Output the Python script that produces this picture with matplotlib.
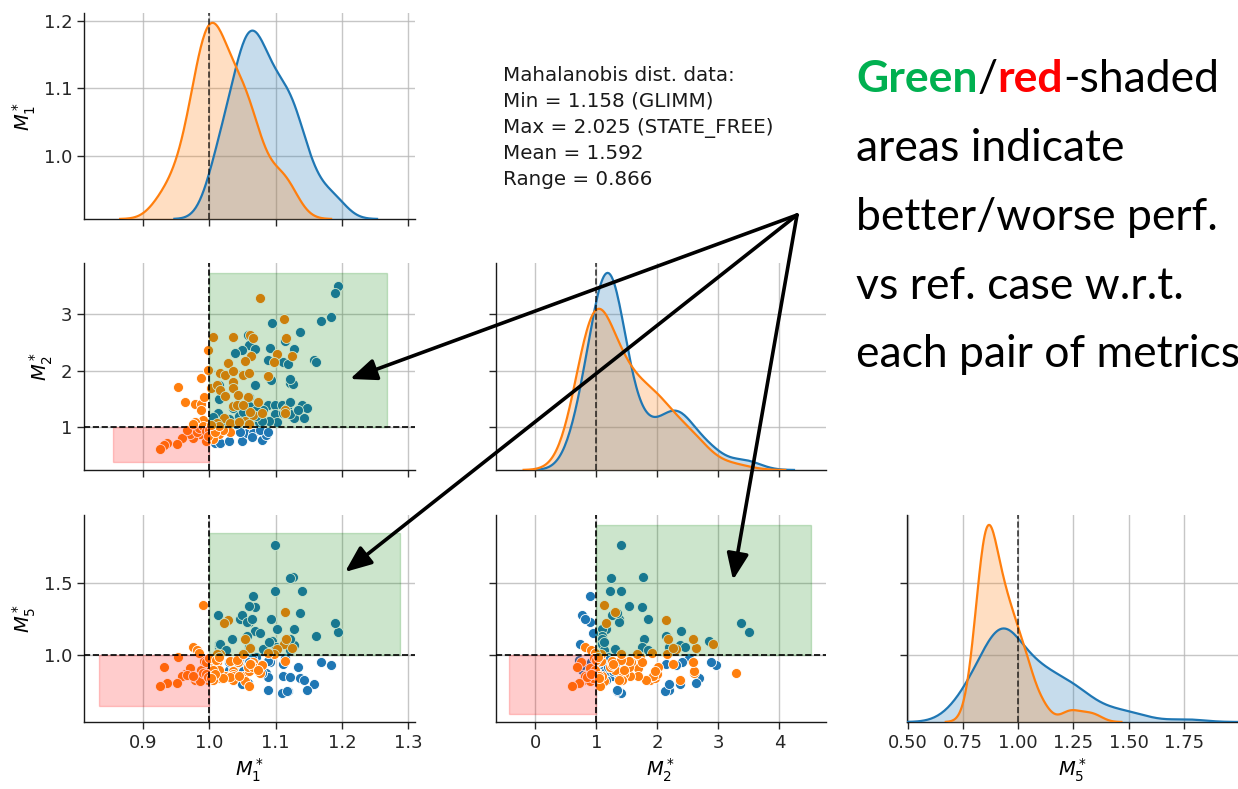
import numpy as np
import matplotlib
matplotlib.use("Agg")
import matplotlib.pyplot as plt
from matplotlib.patches import Rectangle, FancyArrowPatch

# ---------------- data ----------------
# series 1 (blue)
m1_blue = [1.194, 1.189, 1.183, 1.168, 1.137, 1.094, 1.114, 1.127, 1.092, 1.058,
           1.059, 1.069, 1.049, 1.039, 1.089, 1.101, 1.111, 1.119, 1.157, 1.160,
           1.093, 1.122, 1.126, 1.069, 1.014, 1.014, 1.059, 1.046, 1.059, 1.013,
           1.089, 1.099, 1.109, 1.117, 1.137, 1.139, 1.147, 1.099, 1.111, 1.127,
           1.142, 1.102, 1.056, 1.074, 1.034, 1.014, 1.006, 1.009, 1.016, 1.029,
           1.049, 1.056, 1.066, 1.064, 1.079, 1.086, 1.076, 1.046, 1.089, 1.121,
           1.025, 1.081, 1.122, 1.133, 1.122, 1.071, 1.036, 1.090, 1.030, 1.040,
           1.050, 1.055, 1.060, 1.065, 1.070, 1.075, 1.080, 1.045, 1.035, 1.060,
           1.070, 1.050]
m2_blue = [3.51, 3.37, 2.96, 2.88, 2.68, 2.84, 2.52, 2.38, 2.41, 2.63,
           2.46, 2.39, 2.37, 2.31, 2.19, 2.19, 2.15, 2.13, 2.19, 2.15,
           1.84, 1.78, 1.77, 1.75, 1.75, 1.51, 1.54, 1.37, 1.37, 1.25,
           1.40, 1.40, 1.40, 1.34, 1.34, 1.40, 1.34, 1.23, 1.25, 1.16,
           1.16, 1.10, 1.10, 1.10, 1.10, 1.10, 1.19, 0.72, 0.73, 0.76,
           0.76, 0.905, 0.905, 0.82, 0.78, 0.86, 0.95, 0.92, 0.92, 1.24,
           1.12, 1.30, 1.85, 1.30, 1.45, 1.20, 1.05, 1.12, 1.15, 1.05,
           1.18, 1.25, 1.08, 1.15, 1.30, 1.10, 1.12, 1.20, 1.35, 1.05,
           1.20, 1.28]
m5_blue = [1.16, 1.225, 0.93, 0.95, 0.84, 1.10, 0.98, 1.07, 0.955, 0.81,
           1.06, 1.17, 0.80, 0.93, 0.76, 1.06, 0.94, 0.75, 0.80, 1.13,
           1.25, 1.11, 1.54, 1.33, 1.06, 0.87, 1.34, 1.25, 1.23, 1.28,
           0.96, 1.76, 0.74, 0.75, 1.29, 1.44, 0.76, 1.44, 0.86, 1.18,
           0.83, 1.18, 1.13, 0.90, 1.11, 1.08, 0.92, 0.97, 1.08, 0.90,
           1.28, 1.23, 1.41, 1.25, 0.93, 0.88, 1.15, 0.95, 0.85, 1.535,
           1.035, 1.04, 1.035, 0.92, 0.85, 0.99, 0.92, 1.09, 0.95, 0.97,
           0.93, 0.96, 0.91, 0.98, 0.94, 0.90, 0.88, 0.97, 0.87, 0.95,
           0.92, 0.89]

# series 2 (orange)
m1_orange = [1.076, 1.113, 1.005, 1.035, 1.062, 1.066, 1.116, 0.998, 1.063, 1.028,
             1.054, 1.102, 1.097, 1.124, 0.998, 0.987, 0.953, 1.016, 1.023, 1.035,
             1.050, 1.059, 1.036, 1.089, 1.002, 1.012, 1.016, 1.036, 1.024, 1.043,
             1.058, 0.963, 0.978, 0.988, 0.988, 0.992, 0.991, 0.978, 1.035, 1.022,
             1.031, 1.054, 1.066, 1.079, 1.114, 1.114, 1.011, 1.004, 1.014, 1.031,
             0.996, 1.006, 0.995, 0.986, 0.976, 0.971, 0.958, 0.951, 0.936, 0.931,
             0.925, 0.981, 1.041, 1.061, 1.074, 0.985, 0.966, 1.044, 1.059, 1.051,
             0.990, 1.005, 0.975, 1.020, 0.995, 1.000, 1.010, 0.998, 1.008, 1.015,
             1.003]
m2_orange = [3.295, 2.92, 2.60, 2.60, 2.63, 2.59, 2.59, 2.37, 2.26, 2.14,
             2.18, 2.30, 2.16, 2.26, 2.01, 1.88, 1.72, 1.96, 1.93, 1.99,
             1.93, 1.97, 1.81, 1.91, 1.69, 1.75, 1.66, 1.69, 1.56, 1.57,
             1.54, 1.45, 1.42, 1.41, 1.31, 1.54, 1.13, 1.10, 1.38, 1.16,
             1.07, 1.12, 1.22, 1.25, 1.31, 1.25, 1.07, 0.95, 0.89, 0.92,
             0.88, 0.79, 0.75, 0.89, 0.81, 0.89, 0.81, 0.71, 0.72, 0.68,
             0.61, 0.92, 1.40, 1.28, 1.45, 0.98, 0.95, 1.09, 1.06, 1.40,
             1.02, 0.98, 1.05, 0.95, 0.93, 0.96, 1.00, 0.85, 0.92, 1.03,
             1.04]
m5_orange = [0.88, 1.08, 0.88, 0.89, 1.05, 0.95, 1.115, 0.83, 0.94, 1.246,
             1.115, 1.04, 1.01, 1.05, 0.92, 0.83, 0.985, 0.84, 0.86, 0.87,
             0.86, 0.89, 0.83, 1.015, 0.91, 0.95, 1.01, 0.86, 0.86, 0.95,
             0.92, 0.87, 0.83, 0.89, 0.90, 0.96, 1.35, 0.85, 0.83, 1.22,
             0.96, 0.82, 0.92, 0.93, 1.30, 0.96, 1.01, 0.87, 0.90, 0.85,
             0.86, 0.83, 0.95, 0.82, 1.06, 0.91, 0.86, 0.81, 0.81, 0.92,
             0.79, 1.035, 0.965, 0.94, 0.90, 1.012, 0.862, 0.86, 0.79, 1.01,
             0.88, 0.90, 0.86, 0.84, 0.87, 0.98, 0.97, 0.85, 0.87, 0.99,
             0.84]

# reference case and shaded regions (x0, y0, x1, y1)
ref_value = 1.0
green_M2_M1 = (1.0, 1.0, 1.2675, 3.726)
red_M2_M1 = (0.854, 0.392, 1.0, 1.0)
green_M5_M1 = (1.0, 1.0, 1.2876, 1.841)
red_M5_M1 = (0.8336, 0.6475, 1.0, 1.0)
green_M5_M2 = (1.0, 1.0, 4.512, 1.899)
red_M5_M2 = (-0.425, 0.597, 1.0, 1.0)

m1_ticks = [0.9, 1.0, 1.1, 1.2, 1.3]
m1_yticks = [1.0, 1.1, 1.2]
m2_xticks = [0, 1, 2, 3, 4]
m2_yticks = [1, 2, 3]
m5_xticks = [0.50, 0.75, 1.00, 1.25, 1.50, 1.75]
m5_yticks = [1.0, 1.5]

info_lines = ["Mahalanobis dist. data:", "Min = 1.158 (GLIMM)",
              "Max = 2.025 (STATE_FREE)", "Mean = 1.592", "Range = 0.866"]
note_lines = [[("Green", "#00B050", "bold"), ("/", "black", "normal"),
               ("red", "#FF0000", "bold"), ("-shaded", "black", "normal")],
              [("areas indicate", "black", "normal")],
              [("better/worse perf.", "black", "normal")],
              [("vs ref. case w.r.t.", "black", "normal")],
              [("each pair of metrics", "black", "normal")]]

BLUE, ORANGE = "#1f77b4", "#ff7f0e"

# ---------------- figure ----------------
W, H = 1238, 789
fig = plt.figure(figsize=(W / 100, H / 100), dpi=100)
plt.rcParams["font.family"] = ["DejaVu Sans"]

cols = [(84, 415), (496, 826), (907, 1238)]
rows = [(13, 219), (263, 470), (515, 722)]


def add_ax(c, r):
    x0, x1 = cols[c]
    y0, y1 = rows[r]
    return fig.add_axes([x0 / W, 1 - y1 / H, (x1 - x0) / W, (y1 - y0) / H])


def style(ax):
    for s in ["top", "right"]:
        ax.spines[s].set_visible(False)
    for s in ["left", "bottom"]:
        ax.spines[s].set_linewidth(1.0)
        ax.spines[s].set_color("0.1")
    ax.grid(True, color="0.72", lw=1.0, alpha=0.8)
    ax.set_axisbelow(True)
    ax.tick_params(length=4.8, width=1.0, colors="0.15", labelsize=13)


def kde(x):
    x = np.asarray(x, float)
    n = len(x)
    sd = x.std(ddof=1)
    q75, q25 = np.percentile(x, [75, 25])
    a = min(sd, (q75 - q25) / 1.349)
    bw = 1.059 * a * n ** (-0.2)
    g = np.linspace(x.min() - 3 * bw, x.max() + 3 * bw, 200)
    d = np.exp(-0.5 * ((g[:, None] - x[None, :]) / bw) ** 2).sum(1) / (n * bw * np.sqrt(2 * np.pi))
    return g, d


def diag(ax, xb, xo):
    kax = ax.twinx()
    kax.set_axis_off()
    top = 0
    for data, col in [(xb, BLUE), (xo, ORANGE)]:
        g, d = kde(data)
        kax.fill_between(g, d, color=col, alpha=0.25, lw=0)
        kax.plot(g, d, color=col, lw=1.6)
        top = max(top, d.max())
    kax.set_ylim(0, top * 1.05)
    kax.axvline(ref_value, color="k", ls="--", lw=1.2, alpha=0.75)


def box(ax, b, color):
    x0, y0, x1, y1 = b
    ax.add_patch(Rectangle((x0, y0), x1 - x0, y1 - y0, facecolor=color,
                           edgecolor=color, alpha=0.2, lw=1, zorder=3))


def scatter(ax, xb, yb, xo, yo, g, r):
    ax.scatter(xb, yb, s=52, c=BLUE, edgecolors="white", linewidths=0.6, zorder=2)
    ax.scatter(xo, yo, s=52, c=ORANGE, edgecolors="white", linewidths=0.6, zorder=2)
    box(ax, g, "g")
    box(ax, r, "r")
    ax.axvline(ref_value, color="k", ls="--", lw=1.2, zorder=4)
    ax.axhline(ref_value, color="k", ls="--", lw=1.2, zorder=4)


m1_lim, m2_xlim, m5_xlim = (0.811, 1.310), (-0.643, 4.764), (0.497, 1.995)
m1_ylim, m2_ylim, m5_ylim = (0.906, 1.212), (0.244, 3.91), (0.539, 1.968)

# panel A : M1 diag
axA = add_ax(0, 0)
style(axA)
axA.set_xlim(*m1_lim); axA.set_ylim(*m1_ylim)
axA.set_xticks(m1_ticks); axA.set_yticks(m1_yticks)
axA.tick_params(labelbottom=False)
axA.set_ylabel(r"$M_1^*$", fontsize=14)
diag(axA, m1_blue, m1_orange)

# panel B : M2 vs M1
axB = add_ax(0, 1)
style(axB)
scatter(axB, m1_blue, m2_blue, m1_orange, m2_orange, green_M2_M1, red_M2_M1)
axB.set_xlim(*m1_lim); axB.set_ylim(*m2_ylim)
axB.set_xticks(m1_ticks); axB.set_yticks(m2_yticks)
axB.tick_params(labelbottom=False)
axB.set_ylabel(r"$M_2^*$", fontsize=14)

# panel C : M2 diag
axC = add_ax(1, 1)
style(axC)
axC.set_xlim(*m2_xlim); axC.set_ylim(*m2_ylim)
axC.set_xticks(m2_xticks); axC.set_yticks(m2_yticks)
axC.tick_params(labelbottom=False, labelleft=False)
diag(axC, m2_blue, m2_orange)

# panel D : M5 vs M1
axD = add_ax(0, 2)
style(axD)
scatter(axD, m1_blue, m5_blue, m1_orange, m5_orange, green_M5_M1, red_M5_M1)
axD.set_xlim(*m1_lim); axD.set_ylim(*m5_ylim)
axD.set_xticks(m1_ticks); axD.set_yticks(m5_yticks)
axD.set_ylabel(r"$M_5^*$", fontsize=14)
axD.set_xlabel(r"$M_1^*$", fontsize=14)

# panel E : M5 vs M2
axE = add_ax(1, 2)
style(axE)
scatter(axE, m2_blue, m5_blue, m2_orange, m5_orange, green_M5_M2, red_M5_M2)
axE.set_xlim(*m2_xlim); axE.set_ylim(*m5_ylim)
axE.set_xticks(m2_xticks); axE.set_yticks(m5_yticks)
axE.tick_params(labelleft=False)
axE.set_xlabel(r"$M_2^*$", fontsize=14)

# panel F : M5 diag
axF = add_ax(2, 2)
style(axF)
axF.set_xlim(*m5_xlim); axF.set_ylim(*m5_ylim)
axF.set_xticks(m5_xticks); axF.set_yticks(m5_yticks)
axF.set_xticklabels([f"{v:.2f}" for v in m5_xticks])
axF.tick_params(labelleft=False)
axF.set_xlabel(r"$M_5^*$", fontsize=14)
diag(axF, m5_blue, m5_orange)

# ---------------- annotations ----------------
fig.text(503 / W, 1 - 66 / H, "\n".join(info_lines), fontsize=14.3, color="0.1",
         va="top", ha="left", linespacing=1.45)

renderer = fig.canvas.get_renderer()
baselines = [92, 161, 230, 299, 367]
for parts, yb in zip(note_lines, baselines):
    x = 856 / W
    for s, c, wgt in parts:
        t = fig.text(x, 1 - yb / H, s, fontsize=32, color=c, fontweight=wgt,
                     family=["Lato", "DejaVu Sans"], va="baseline", ha="left")
        bb = t.get_window_extent(renderer)
        x += bb.width / W

origin = (797, 215)
targets = [(350, 379), (345, 572), (733, 580)]
for tx, ty in targets:
    arr = FancyArrowPatch((origin[0] / W, 1 - origin[1] / H), (tx / W, 1 - ty / H),
                          transform=fig.transFigure, arrowstyle="-|>,head_length=0.8,head_width=0.33",
                          mutation_scale=20, lw=2.6, color="black", shrinkA=0, shrinkB=0, zorder=10)
    fig.add_artist(arr)

fig.savefig("out.png", dpi=100)
